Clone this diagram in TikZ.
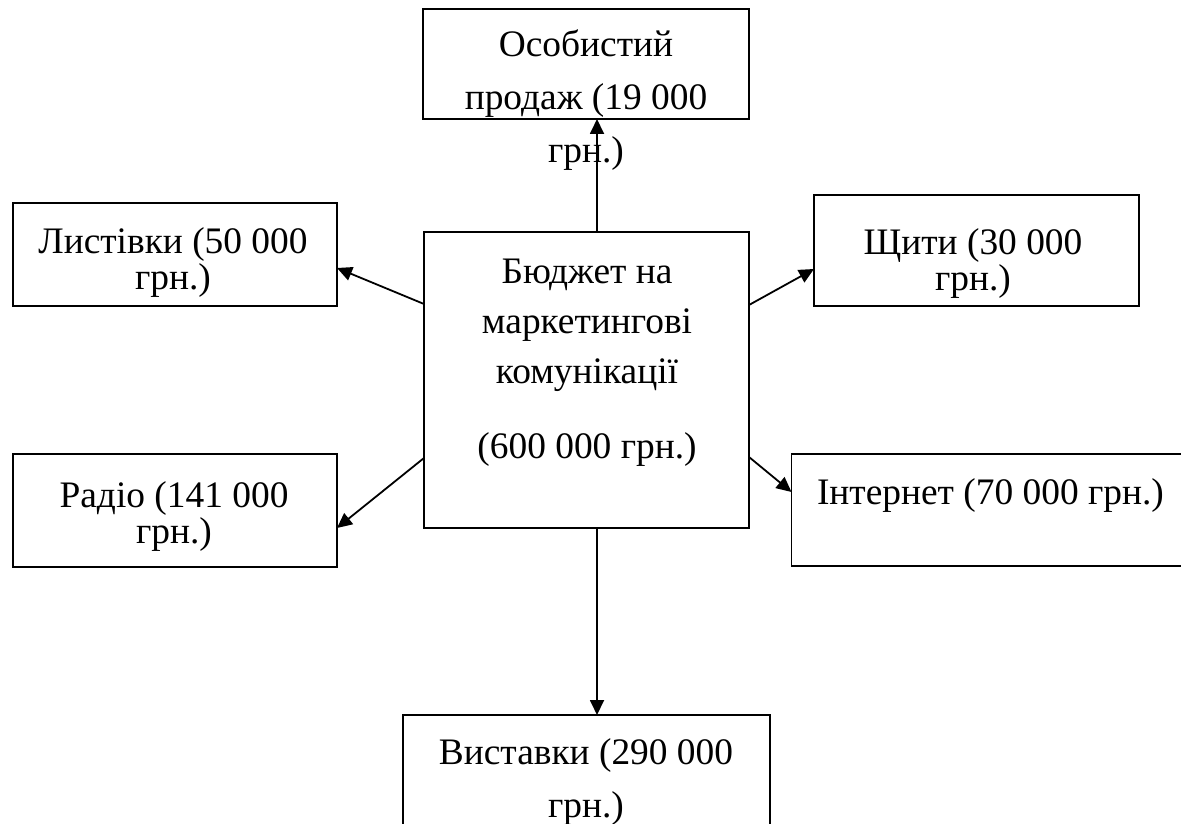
\documentclass[tikz,border=0pt]{standalone}
\usepackage{fontspec}
\setmainfont{Liberation Serif}
\usetikzlibrary{arrows.meta}

\begin{document}
\begin{tikzpicture}[x=0.5pt,y=-0.5pt]
\tikzset{ >={Triangle[length=7.5pt,width=7pt]}, inner sep=0pt, outer sep=0pt,
  box/.style={draw, line width=0.9pt},
  txt/.style={align=center, font=\fontsize{18.7pt}{26.5pt}\selectfont},
  txtS/.style={align=center, font=\fontsize{18.7pt}{18pt}\selectfont},
  link/.style={->, line width=0.9pt},
}
\useasboundingbox (0,0) rectangle (1181,823);

% boxes
\node [box, minimum width=163pt,   minimum height=55pt]   (osob)   at (586,64)     {};
\node [box, minimum width=162pt,   minimum height=51.5pt] (lst)    at (175,254.5)  {};
\node [box, minimum width=162.5pt, minimum height=55.5pt] (shch)   at (976.5,250.5){};
\node [box, minimum width=162.5pt, minimum height=148pt]  (centre) at (586.5,380)  {};
\node [box, minimum width=162pt,   minimum height=56.5pt] (rad)    at (175,510.5)  {};
\node [box, minimum width=197pt,   minimum height=56pt]   (inet)   at (988.5,510)  {};
\node [box, minimum width=183.5pt, minimum height=72.5pt] (vyst)   at (586.5,787.5){};

% texts (base = last line)
\node [txt,  anchor=base] (osobT)   at (586,163) {Особистий\\продаж (19 000\\грн.)};
\node [txtS, anchor=base] (lstT)    at (173,290) {Листівки (50 000\\грн.)};
\node [txtS, anchor=base] (shchT)   at (973,291) {Щити (30 000\\грн.)};
\node [txtS, anchor=base] (radT)    at (174,543) {Радіо (141 000\\грн.)};
\node [txt,  anchor=base west] (inetT) at (817,504) {Інтернет (70 000 грн.)};
\node [txt,  anchor=base] (vystT)   at (586,817) {Виставки (290 000\\грн.)};
\node [txt,  anchor=base, font=\fontsize{18.7pt}{25pt}\selectfont] (centreT) at (587,458)
  {Бюджет на\\маркетингові\\комунікації\\[12.5pt](600 000 грн.)};

% links
\draw [link] ([xshift=5.25pt]centre.north) -- ([xshift=5.25pt]centre.north |- osob.south);
\draw [link] ([xshift=5.25pt]centre.south) -- ([xshift=5.25pt]centre.south |- vyst.north);
\draw [link] ([yshift=-36pt]centre.north west)   -- ([yshift=-6.75pt]lst.east);
\draw [link] ([yshift=-36.5pt]centre.north east) -- ([yshift=-9.25pt]shch.west);
\draw [link] ([yshift=35pt]centre.south west)    -- ([yshift=-8.75pt]rad.east);
\draw [link] ([yshift=35.5pt]centre.south east)  -- ([yshift=9pt]inet.west);

\end{tikzpicture}
\end{document}
